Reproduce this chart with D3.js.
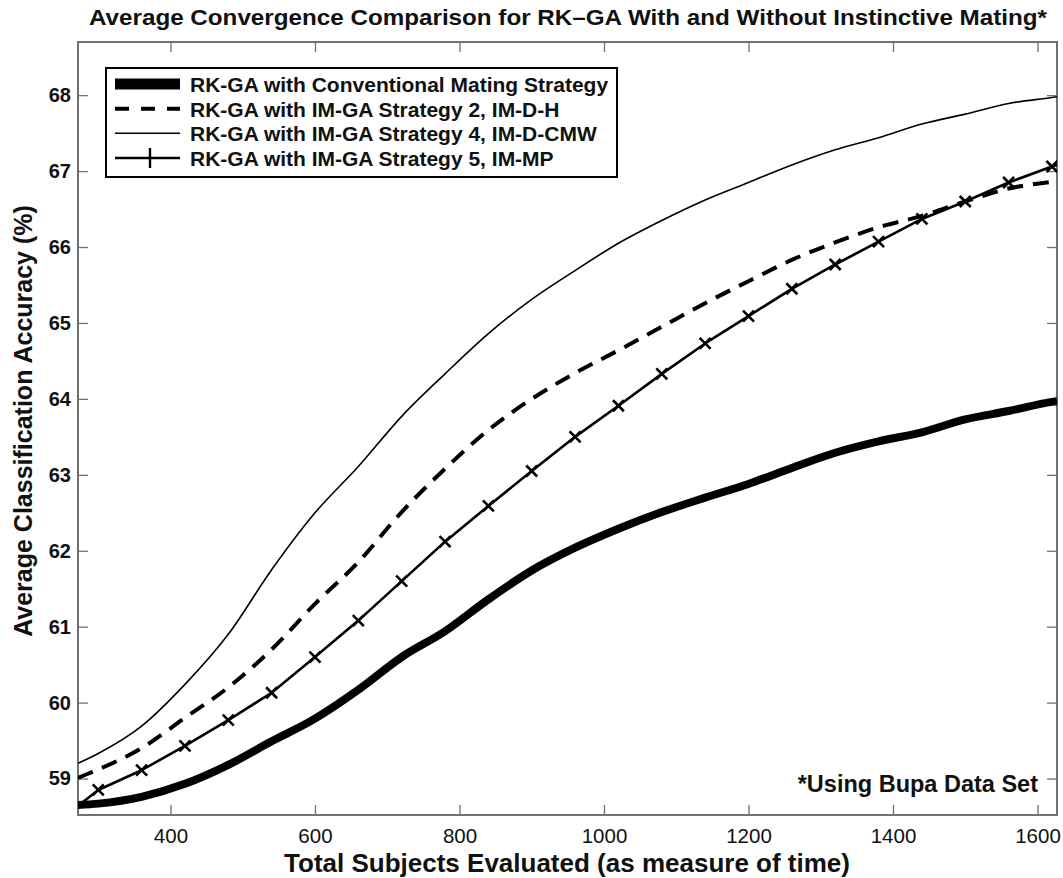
<!DOCTYPE html>
<html>
<head>
<meta charset="utf-8">
<script src="https://cdn.jsdelivr.net/npm/d3@7/dist/d3.min.js"></script>
<style>
  html, body { margin: 0; padding: 0; background: #fff; }
  svg { display: block; font-family: "Liberation Sans", Arial, Helvetica, sans-serif; }
</style>
</head>
<body>
<svg id="chart" width="1063" height="878"></svg>
<script>
// Total subjects evaluated (shared sample points for all four runs)
const subjects = [272, 300, 360, 420, 480, 540, 600, 660, 720, 780, 840, 900, 960,
  1020, 1080, 1140, 1200, 1260, 1320, 1380, 1440, 1500, 1560, 1620, 1627];

// Average classification accuracy (%) for each mating strategy
const conventional = [58.65, 58.67, 58.76, 58.93, 59.18, 59.49, 59.79, 60.17, 60.60, 60.94,
  61.36, 61.74, 62.04, 62.29, 62.51, 62.70, 62.88, 63.09, 63.29, 63.44, 63.56, 63.73,
  63.84, 63.96, 63.97];
const strategy2 = [59.01, 59.12, 59.40, 59.80, 60.20, 60.70, 61.30, 61.85, 62.51, 63.08,
  63.59, 64.00, 64.34, 64.64, 64.95, 65.26, 65.55, 65.83, 66.06, 66.26, 66.41, 66.60,
  66.77, 66.86, 66.87];
const strategy4 = [59.20, 59.33, 59.69, 60.24, 60.90, 61.75, 62.50, 63.11, 63.77, 64.33,
  64.86, 65.31, 65.69, 66.05, 66.35, 66.62, 66.85, 67.08, 67.28, 67.44, 67.62, 67.75,
  67.89, 67.97, 67.98];
const strategy5 = [58.64, 58.85, 59.11, 59.43, 59.77, 60.13, 60.60, 61.08, 61.60, 62.12,
  62.59, 63.05, 63.50, 63.91, 64.33, 64.73, 65.09, 65.45, 65.77, 66.07, 66.37, 66.60,
  66.85, 67.06, 67.08];

// Axis ticks
const xTicks = [400, 600, 800, 1000, 1200, 1400, 1600];
const yTicks = [59, 60, 61, 62, 63, 64, 65, 66, 67, 68];

const legendLabels = [
  "RK-GA with Conventional Mating Strategy",
  "RK-GA with IM-GA Strategy 2, IM-D-H",
  "RK-GA with IM-GA Strategy 4, IM-D-CMW",
  "RK-GA with IM-GA Strategy 5, IM-MP"
];

const svg = d3.select("#chart");
const plotL = 78, plotR = 1057, plotT = 42, plotB = 815;

const x = d3.scaleLinear().domain([272, 1627]).range([plotL, plotR]);
const y = d3.scaleLinear().domain([58.52, 68.7]).range([plotB, plotT]);

svg.append("rect").attr("width", 1063).attr("height", 878).attr("fill", "#fff");

svg.append("defs").append("clipPath").attr("id", "plotClip")
  .append("rect").attr("x", plotL).attr("y", plotT)
  .attr("width", plotR - plotL).attr("height", plotB - plotT);

// Axes with inward ticks on all four sides
const tickLen = 10;
const axisColor = "#707070";
function styleAxis(g) {
  g.select(".domain").remove();
  g.selectAll(".tick line").attr("stroke", axisColor).attr("stroke-width", 1.3);
}
svg.append("g").attr("transform", `translate(0,${plotB})`)
  .call(d3.axisBottom(x).tickValues(xTicks).tickSize(-tickLen).tickPadding(13)
    .tickFormat(d3.format("d")))
  .call(styleAxis)
  .call(g => g.selectAll("text").attr("font-size", 20.5).attr("fill", "#111")
    .attr("font-family", "'Liberation Sans', Arial, sans-serif"));
svg.append("g").attr("transform", `translate(0,${plotT})`)
  .call(d3.axisTop(x).tickValues(xTicks).tickSize(-tickLen).tickFormat(""))
  .call(styleAxis);
svg.append("g").attr("transform", `translate(${plotL},0)`)
  .call(d3.axisLeft(y).tickValues(yTicks).tickSize(-tickLen).tickPadding(7))
  .call(styleAxis)
  .call(g => g.selectAll("text").attr("font-size", 20).attr("font-weight", "bold")
    .attr("fill", "#111").attr("font-family", "'Liberation Sans', Arial, sans-serif"));
svg.append("g").attr("transform", `translate(${plotR},0)`)
  .call(d3.axisRight(y).tickValues(yTicks).tickSize(-tickLen).tickFormat(""))
  .call(styleAxis);

svg.append("rect").attr("x", plotL).attr("y", plotT)
  .attr("width", plotR - plotL).attr("height", plotB - plotT)
  .attr("fill", "none").attr("stroke", axisColor).attr("stroke-width", 2);

// Series lines
const series = [
  { values: conventional, width: 8, dash: null, curve: d3.curveMonotoneX },
  { values: strategy2, width: 4, dash: "16,10", curve: d3.curveMonotoneX },
  { values: strategy4, width: 1.6, dash: null, curve: d3.curveMonotoneX },
  { values: strategy5, width: 2.6, dash: null, curve: d3.curveLinear }
];

const plot = svg.append("g").attr("clip-path", "url(#plotClip)");
series.forEach(s => {
  const line = d3.line().curve(s.curve)
    .x((d, i) => x(subjects[i])).y(d => y(d));
  plot.append("path").datum(s.values)
    .attr("d", line)
    .attr("fill", "none").attr("stroke", "#000")
    .attr("stroke-width", s.width)
    .attr("stroke-linejoin", "round")
    .attr("stroke-dasharray", s.dash);
});

// "x" markers on the IM-MP run (interior sample points only)
const m = 5.5;
const markerIdx = subjects.map((d, i) => i).filter(i => i > 0 && i < subjects.length - 1);
plot.append("g").selectAll("path").data(markerIdx).join("path")
  .attr("d", i => {
    const cx = x(subjects[i]), cy = y(strategy5[i]);
    return `M${cx - m},${cy - m}L${cx + m},${cy + m}M${cx - m},${cy + m}L${cx + m},${cy - m}`;
  })
  .attr("stroke", "#000").attr("stroke-width", 2.6).attr("fill", "none");

// Legend
const lg = svg.append("g");
const lgX = 106, lgY = 68, lgW = 511, lgH = 109;
lg.append("rect").attr("x", lgX).attr("y", lgY).attr("width", lgW).attr("height", lgH)
  .attr("fill", "#fff").attr("stroke", "#000").attr("stroke-width", 2);
const rowY = [84, 108.7, 133.3, 158];
const legendWidths = [11, 4, 1.6, 2.6];
const legendDash = [null, "14,12", null, null];
legendLabels.forEach((label, i) => {
  lg.append("line").attr("x1", 115).attr("x2", 180).attr("y1", rowY[i]).attr("y2", rowY[i])
    .attr("stroke", "#000").attr("stroke-width", legendWidths[i])
    .attr("stroke-dasharray", legendDash[i]);
  lg.append("text").attr("x", 190).attr("y", rowY[i]).attr("dy", "0.38em")
    .attr("font-size", 21).attr("font-weight", "bold").attr("fill", "#111")
    .text(label);
});
lg.append("line").attr("x1", 150).attr("x2", 150)
  .attr("y1", rowY[3] - 10).attr("y2", rowY[3] + 10)
  .attr("stroke", "#000").attr("stroke-width", 2.4);

// Titles
svg.append("text").attr("x", 568).attr("y", 25).attr("text-anchor", "middle")
  .attr("font-size", 22).attr("font-weight", "bold").attr("fill", "#111")
  .attr("textLength", 958).attr("lengthAdjust", "spacingAndGlyphs")
  .text("Average Convergence Comparison for RK\u2013GA With and Without Instinctive Mating*");
svg.append("text").attr("x", 567).attr("y", 872).attr("text-anchor", "middle")
  .attr("font-size", 26).attr("font-weight", "bold").attr("fill", "#111")
  .text("Total Subjects Evaluated (as measure of time)");
svg.append("text").attr("transform", "translate(32,421) rotate(-90)")
  .attr("text-anchor", "middle")
  .attr("font-size", 25).attr("font-weight", "bold").attr("fill", "#111")
  .text("Average Classification Accuracy (%)");
svg.append("text").attr("x", 1038).attr("y", 792).attr("text-anchor", "end")
  .attr("font-size", 23.5).attr("font-weight", "bold").attr("fill", "#111")
  .text("*Using Bupa Data Set");
</script>
</body>
</html>
